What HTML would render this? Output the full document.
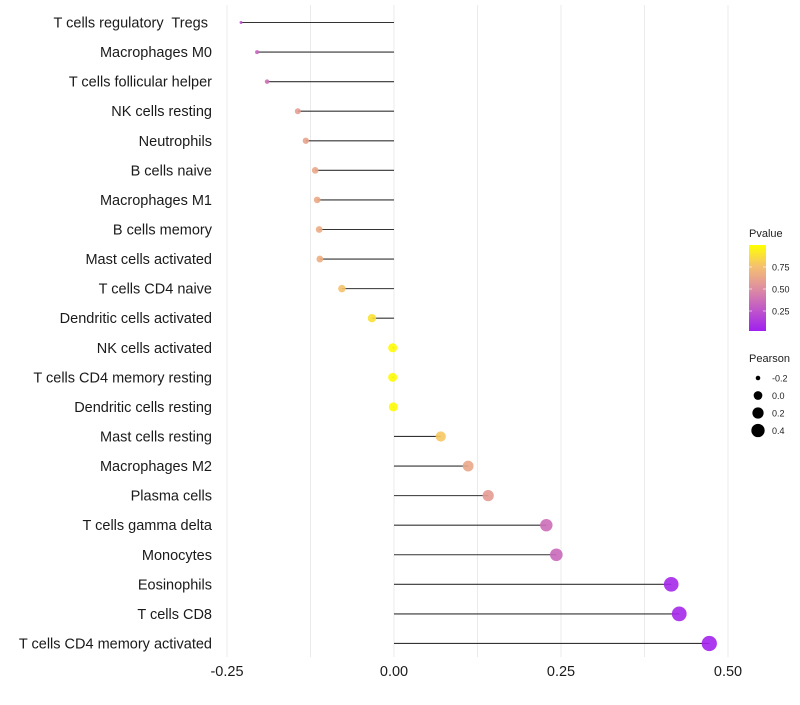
<!DOCTYPE html>
<html><head><meta charset="utf-8"><style>
body{margin:0;background:#fff;font-family:"Liberation Sans",sans-serif}
text{white-space:pre}
</style></head><body>
<svg id="chart" width="800" height="700" xmlns="http://www.w3.org/2000/svg"></svg>
<script>
const categories=["T cells regulatory  Tregs ","Macrophages M0","T cells follicular helper","NK cells resting","Neutrophils","B cells naive","Macrophages M1","B cells memory","Mast cells activated","T cells CD4 naive","Dendritic cells activated","NK cells activated","T cells CD4 memory resting","Dendritic cells resting","Mast cells resting","Macrophages M2","Plasma cells","T cells gamma delta","Monocytes","Eosinophils","T cells CD8","T cells CD4 memory activated"];
const pearson=[-0.229,-0.205,-0.190,-0.144,-0.132,-0.118,-0.115,-0.112,-0.111,-0.078,-0.033,-0.002,-0.002,-0.001,0.070,0.111,0.141,0.228,0.243,0.415,0.427,0.472];
const pvalues=[0.22,0.32,0.36,0.58,0.6,0.62,0.64,0.65,0.66,0.76,0.88,0.99,0.99,0.99,0.78,0.62,0.56,0.35,0.33,0.04,0.04,0.02];
const xTicks=[-0.25,0,0.25,0.5];
const xTickLabels=["-0.25","0.00","0.25","0.50"];
const pTicks=[0.25,0.5,0.75];
const sizeLegend=[-0.2,0,0.2,0.4];

const svg=document.getElementById('chart');
const NS='http://www.w3.org/2000/svg';
function mk(t,a,p){const e=document.createElementNS(NS,t);for(const k in a)e.setAttribute(k,a[k]);(p||svg).appendChild(e);return e;}
const x=v=>394+668*v;
const y=i=>22.5+i*29.57;
const r=v=>Math.sqrt(Math.max(0.5,2+80*(v+0.23)));
const stops=[[0,[160,32,240]],[0.5,[223,143,160]],[0.75,[245,192,112]],[1,[255,255,0]]];
function col(p){for(let i=0;i<stops.length-1;i++){const[a,ca]=stops[i],[b,cb]=stops[i+1];if(p<=b){const t=(p-a)/(b-a);return 'rgb('+ca.map((c,j)=>Math.round(c+(cb[j]-c)*t)).join(',')+')';}}return 'rgb(255,255,0)';}

[-0.25,-0.125,0,0.125,0.25,0.375,0.5].forEach(v=>{
 const g=mk('line',{x1:x(v),x2:x(v),y1:5,y2:657,stroke:'#ebebeb','stroke-width':1});
 
 
});
xTicks.forEach((v,i)=>{
 const t=mk('text',{x:x(v),y:676,'text-anchor':'middle','font-size':14.5,fill:'#1a1a1a'});
 t.textContent=xTickLabels[i];
 
 
});
categories.forEach((c,i)=>{
 const t=mk('text',{x:212,y:y(i)+5,'text-anchor':'end','font-size':14.5,fill:'#1a1a1a'});
 t.textContent=c;
 
 
 const l=mk('line',{x1:x(0),x2:x(pearson[i]),y1:y(i),y2:y(i),stroke:'#333','stroke-width':1.1});
 
 
 const p=mk('circle',{cx:x(pearson[i]),cy:y(i),r:r(pearson[i]),fill:col(pvalues[i]),'fill-opacity':0.9});
 
 
});
const lt=mk('text',{x:749,y:237,'font-size':11,fill:'#222'});lt.textContent='Pvalue';


const defs=mk('defs',{});
const lg=mk('linearGradient',{id:'pg',x1:0,y1:1,x2:0,y2:0},defs);
stops.forEach(s=>mk('stop',{offset:s[0],'stop-color':col(s[0])},lg));
const cb=mk('rect',{x:749,y:245,width:17,height:86,fill:'url(#pg)'});


pTicks.forEach(v=>{
 const yy=333-88*v;
 mk('line',{x1:749,x2:752,y1:yy,y2:yy,stroke:'#fff','stroke-opacity':0.6});
 mk('line',{x1:763,x2:766,y1:yy,y2:yy,stroke:'#fff','stroke-opacity':0.6});
 const t=mk('text',{x:772,y:yy+3.5,'font-size':9,fill:'#222'});t.textContent=v.toFixed(2);
 
 
});
const st=mk('text',{x:749,y:362,'font-size':11,fill:'#222'});st.textContent='Pearson';


sizeLegend.forEach((v,i)=>{
 const yy=378+17.5*i;
 const c=mk('circle',{cx:758,cy:yy,r:r(v)*0.85+0.5,fill:'#000'});
 
 
 const t=mk('text',{x:772,y:yy+3.5,'font-size':9,fill:'#222'});t.textContent=v.toFixed(1);
 
 
});
</script>
</body></html>
